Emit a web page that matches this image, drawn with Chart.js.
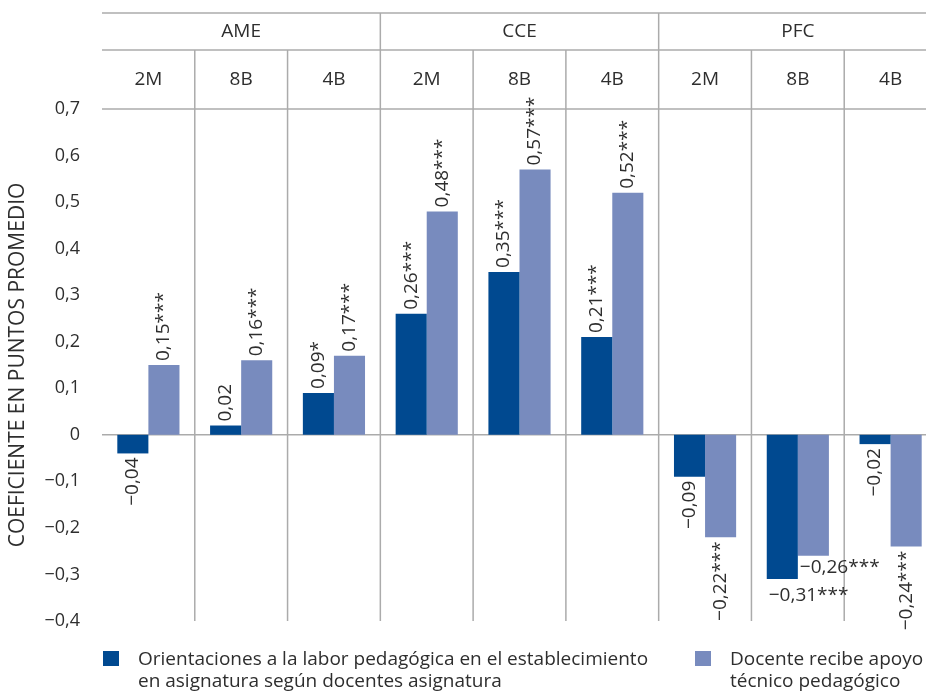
<!DOCTYPE html>
<html>
<head>
<meta charset="utf-8">
<script src="https://cdn.jsdelivr.net/npm/chart.js@4.4.1/dist/chart.umd.min.js"></script>
<style>
  html, body { margin: 0; padding: 0; overflow: hidden; background: #ffffff; }
  canvas { display: block; }
</style>
</head>
<body>
<canvas id="c" width="938" height="692"></canvas>
<script>
// ---- data ----
const categories = ['2M', '8B', '4B', '2M', '8B', '4B', '2M', '8B', '4B'];
const groups = ['AME', 'CCE', 'PFC'];
const seriesLabels = [
  ['Orientaciones a la labor pedagógica en el establecimiento', 'en asignatura según docentes asignatura'],
  ['Docente recibe apoyo', 'técnico pedagógico']
];
const orientaciones = [-0.04, 0.02, 0.09, 0.26, 0.35, 0.21, -0.09, -0.31, -0.02];
const apoyoTecnico = [0.15, 0.16, 0.17, 0.48, 0.57, 0.52, -0.22, -0.26, -0.24];
const orientacionesSig = ['', '', '*', '***', '***', '***', '', '***', ''];
const apoyoTecnicoSig = ['***', '***', '***', '***', '***', '***', '***', '***', '***'];
const yTickValues = [0.7, 0.6, 0.5, 0.4, 0.3, 0.2, 0.1, 0, -0.1, -0.2, -0.3, -0.4];
const yTickLabels = ['0,7', '0,6', '0,5', '0,4', '0,3', '0,2', '0,1', '0', '−0,1', '−0,2', '−0,3', '−0,4'];
const yTitle = 'COEFICIENTE EN PUNTOS PROMEDIO';

// ---- style ----
const FONT = '"Open Sans", "Noto Sans", sans-serif';
const TEXT = '#2e2e2e';
const LINE = '#ababab';
const DARK = '#004990';
const LIGHT = '#788BBE';
const groupSize = 3;
const horizontalLabelIndex = 7;
const FS = 19;

function fmt(v) {
  return (v < 0 ? '−' : '') + Math.abs(v).toFixed(2).replace('.', ',');
}

const framePlugin = {
  id: 'frame',
  beforeDatasetsDraw(chart) {
    const { ctx, chartArea: a, scales: { x, y } } = chart;
    const yMax = yTickValues[0], yMin = yTickValues[yTickValues.length - 1];
    const top1 = 13, top2 = 50;
    ctx.save();
    ctx.strokeStyle = LINE;
    ctx.lineWidth = 1.5;
    const hl = (yy) => { ctx.beginPath(); ctx.moveTo(a.left, yy); ctx.lineTo(a.right, yy); ctx.stroke(); };
    hl(top1); hl(top2); hl(y.getPixelForValue(yMax)); hl(y.getPixelForValue(0));
    const n = categories.length;
    const bottom = y.getPixelForValue(yMin);
    for (let i = 1; i <= n; i++) {
      const bx = i < n ? (x.getPixelForValue(i - 1) + x.getPixelForValue(i)) / 2 : a.right;
      const t = (i % groupSize === 0) ? top1 : top2;
      ctx.beginPath(); ctx.moveTo(bx, t); ctx.lineTo(bx, bottom); ctx.stroke();
    }
    ctx.fillStyle = TEXT;
    ctx.font = FS + 'px ' + FONT;
    ctx.textAlign = 'center';
    ctx.textBaseline = 'middle';
    categories.forEach((c, i) => ctx.fillText(c, x.getPixelForValue(i), 80));
    groups.forEach((g, gi) => {
      const cx = (x.getPixelForValue(gi * groupSize) + x.getPixelForValue(gi * groupSize + groupSize - 1)) / 2;
      ctx.fillText(g, cx, 32);
    });
    ctx.restore();
  },
  afterDatasetsDraw(chart) {
    const { ctx } = chart;
    const sigs = [orientacionesSig, apoyoTecnicoSig];
    ctx.save();
    ctx.fillStyle = TEXT;
    ctx.font = FS + 'px ' + FONT;
    chart.data.datasets.forEach((ds, di) => {
      const meta = chart.getDatasetMeta(di);
      meta.data.forEach((bar, i) => {
        const v = ds.data[i];
        const txt = fmt(v) + sigs[di][i];
        ctx.save();
        if (i === horizontalLabelIndex) {
          ctx.textAlign = 'left';
          ctx.textBaseline = 'middle';
          ctx.fillText(txt, bar.x - bar.width / 2 + 2, bar.y + (di === 0 ? 16 : 12));
        } else {
          ctx.translate(bar.x, v >= 0 ? bar.y - 4 : bar.y + 4);
          ctx.rotate(-Math.PI / 2);
          ctx.textAlign = v >= 0 ? 'left' : 'right';
          ctx.textBaseline = 'middle';
          ctx.fillText(txt, 0, 0);
        }
        ctx.restore();
      });
    });
    // legend
    const colors = [DARK, LIGHT];
    const sqX = [103, 695];
    const txX = [138, 730];
    seriesLabels.forEach((lines, k) => {
      ctx.fillStyle = colors[k];
      ctx.fillRect(sqX[k], 651, 16, 15);
      ctx.fillStyle = TEXT;
      ctx.textAlign = 'left';
      ctx.textBaseline = 'middle';
      lines.forEach((ln, j) => ctx.fillText(ln, txX[k], 660 + j * 22));
    });
    ctx.restore();
  }
};

new Chart(document.getElementById('c'), {
  type: 'bar',
  data: {
    labels: categories,
    datasets: [
      { label: seriesLabels[0].join(' '), data: orientaciones, backgroundColor: DARK, categoryPercentage: 0.67, barPercentage: 1.0 },
      { label: seriesLabels[1].join(' '), data: apoyoTecnico, backgroundColor: LIGHT, categoryPercentage: 0.67, barPercentage: 1.0 }
    ]
  },
  options: {
    responsive: false,
    animation: false,
    layout: { padding: { top: 109, bottom: 71, left: 0, right: 1 } },
    plugins: { legend: { display: false }, tooltip: { enabled: false } },
    scales: {
      x: { display: false, offset: true },
      y: {
        min: yTickValues[yTickValues.length - 1],
        max: yTickValues[0],
        afterFit(scale) { scale.width = 102; },
        afterBuildTicks(scale) { scale.ticks = yTickValues.map(v => ({ value: v })); },
        grid: { display: false, drawTicks: false },
        border: { display: false },
        ticks: {
          padding: 22,
          color: TEXT,
          font: { family: FONT, size: 18 },
          callback(value) {
            const idx = yTickValues.findIndex(t => Math.abs(t - value) < 1e-9);
            return idx >= 0 ? yTickLabels[idx] : '';
          }
        },
        title: {
          display: true,
          text: yTitle,
          color: TEXT,
          font: { family: FONT, size: 21 },
          padding: { top: 5, bottom: 0 }
        }
      }
    }
  },
  plugins: [framePlugin]
});
</script>
</body>
</html>
